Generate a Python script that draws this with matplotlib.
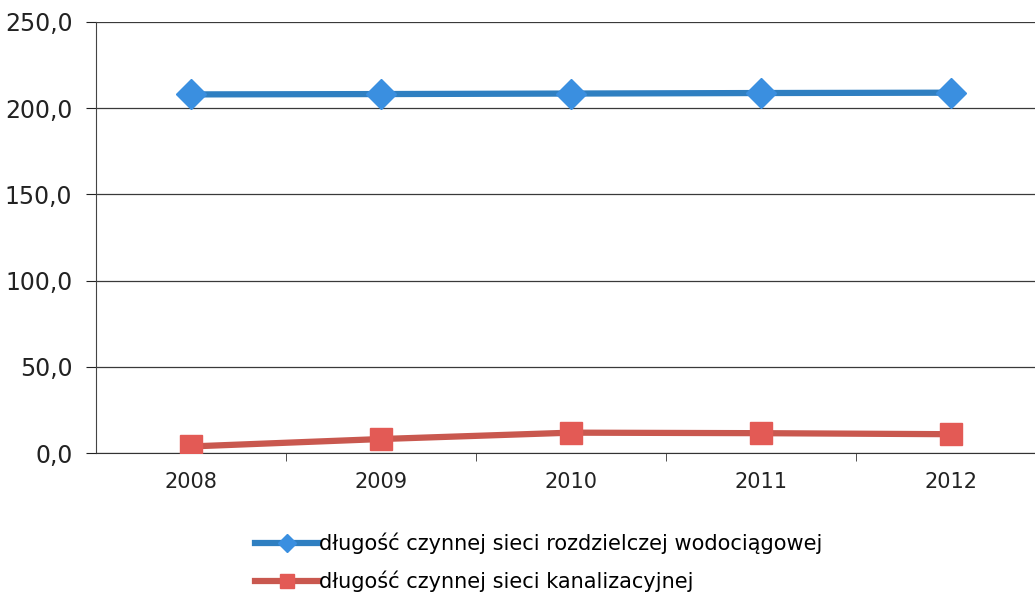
import matplotlib
matplotlib.use("Agg")
import matplotlib.pyplot as plt
from matplotlib.ticker import FuncFormatter, FixedLocator

years = ["2008", "2009", "2010", "2011", "2012"]
water = [208.0, 208.2, 208.5, 208.8, 209.0]
sewer = [3.8, 8.1, 11.8, 11.5, 10.9]
labels = ["długość czynnej sieci rozdzielczej wodociągowej",
          "długość czynnej sieci kanalizacyjnej"]
yticks = [0, 50, 100, 150, 200, 250]

plt.rcParams['font.family'] = ['DejaVu Sans']
fig = plt.figure(figsize=(10.35, 5.96), dpi=100)
ax = fig.add_axes([96/1035, 1-453/596, 1-96/1035, (453-22)/596])

x = list(range(len(years)))
ax.plot(x, water, color="#2f7fc1", lw=4.5, marker="D", markersize=15,
        markerfacecolor="#3a8fe0", markeredgecolor="#3a8fe0", label=labels[0], zorder=3)
ax.plot(x, sewer, color="#c9584f", lw=4.5, marker="s", markersize=16,
        markerfacecolor="#e35a55", markeredgecolor="#e35a55", label=labels[1], zorder=3)

ax.set_ylim(0, 250)
ax.set_xlim(-0.5, (1035-96)/190 - 0.5)
ax.set_yticks(yticks)
ax.yaxis.set_major_formatter(FuncFormatter(lambda v, p: f"{v:.1f}".replace(".", ",")))
ax.grid(axis="y", color="#3a3a3a", lw=0.9)
ax.set_axisbelow(True)
ax.set_xticks(x)
ax.set_xticklabels(years)
ax.xaxis.set_minor_locator(FixedLocator([i + 0.5 for i in range(len(years))]))
ax.tick_params(axis="x", which="major", length=0, pad=14, labelsize=15, colors="#222222")
ax.tick_params(axis="x", which="minor", length=6, color="#333333")
ax.tick_params(axis="y", length=7, pad=10, labelsize=17, colors="#222222")
for s in ["top", "right"]:
    ax.spines[s].set_visible(False)
ax.spines["left"].set_color("#444444")
ax.spines["bottom"].set_color("#333333")

fig.legend(loc="upper left", bbox_to_anchor=(245/1035, 1-522/596), frameon=False,
           fontsize=15, handlelength=3.0, handletextpad=0.05, labelspacing=0.8,
           borderpad=0, markerscale=0.6)

fig.savefig("out.png", dpi=100, facecolor="white")
